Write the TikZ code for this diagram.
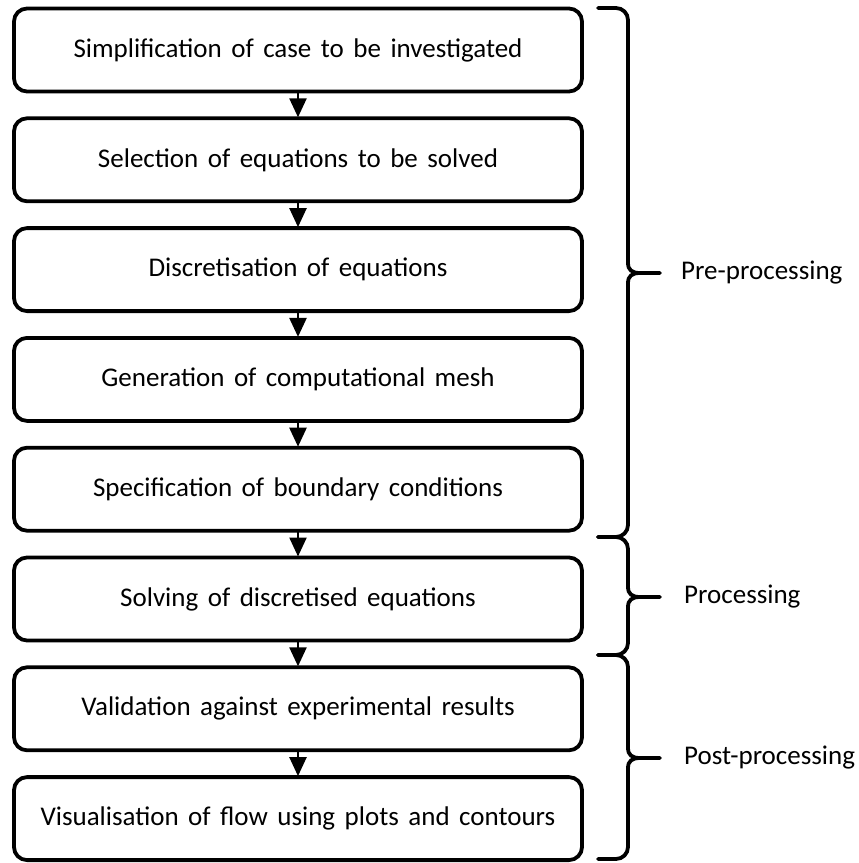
\documentclass[tikz,border=0pt]{standalone}
\usepackage{fontspec}
\setmainfont{Carlito}
\usetikzlibrary{arrows.meta,positioning}

\newcommand{\stepfont}{\fontsize{27}{32}\selectfont\spaceskip=9.5pt plus 2pt minus 1pt\relax}

% curly bracket: top y, tip y, bottom y (px, y downward)
\newcommand{\stagebrace}[3]{%
  \draw[bracket] (598,#1) -- (616,#1) to[out=0,in=90] (628,#1+12) -- (628,#2-10)
    .. controls (628,#2-3) and (632,#2) .. (640,#2) -- (660,#2);
  \draw[bracket] (640,#2) .. controls (632,#2) and (628,#2+3) .. (628,#2+10)
    -- (628,#3-12) to[out=-90,in=0] (616,#3) -- (598,#3);
}

\begin{document}
\begin{tikzpicture}[
  x=1pt, y=-1pt,
  font=\fontsize{27}{32}\selectfont,
  stepbox/.style={draw, line width=3.8pt, rounded corners=13pt, outer sep=0pt,
    minimum width=568pt, minimum height=83pt, align=center, fill=white,
    font=\stepfont},
  flowarrow/.style={-{Triangle[width=17pt,length=19pt]}, line width=2.4pt, shorten >=1pt},
  bracket/.style={line width=3.8pt, line cap=round},
  stagelabel/.style={anchor=west, inner sep=0pt},
]
\useasboundingbox (0,0) rectangle (859,863);

% -- Steps --
\node[stepbox] (s1) at (298,50) {Simplification of case to be investigated};
\node[stepbox, below=26.8pt of s1] (s2) {Selection of equations to be solved};
\node[stepbox, below=26.8pt of s2] (s3) {Discretisation of equations};
\node[stepbox, below=26.8pt of s3] (s4) {Generation of computational mesh};
\node[stepbox, below=26.8pt of s4] (s5) {Specification of boundary conditions};
\node[stepbox, below=26.8pt of s5] (s6) {Solving of discretised equations};
\node[stepbox, below=26.8pt of s6] (s7) {Validation against experimental results};
\node[stepbox, below=26.8pt of s7] (s8) {Visualisation of flow using plots and contours};

% -- Arrows --
\draw[flowarrow] (s1.south) -- (s2.north);
\draw[flowarrow] (s2.south) -- (s3.north);
\draw[flowarrow] (s3.south) -- (s4.north);
\draw[flowarrow] (s4.south) -- (s5.north);
\draw[flowarrow] (s5.south) -- (s6.north);
\draw[flowarrow] (s6.south) -- (s7.north);
\draw[flowarrow] (s7.south) -- (s8.north);

% -- Stages --
\stagebrace{8}{273}{537}
\stagebrace{537}{597}{655}
\stagebrace{655}{758}{859}
\node[stagelabel] (pre) at (681,273) {Pre-processing};
\node[stagelabel] (proc) at (684,597) {Processing};
\node[stagelabel] (post) at (684,758) {Post-processing};

\end{tikzpicture}
\end{document}
